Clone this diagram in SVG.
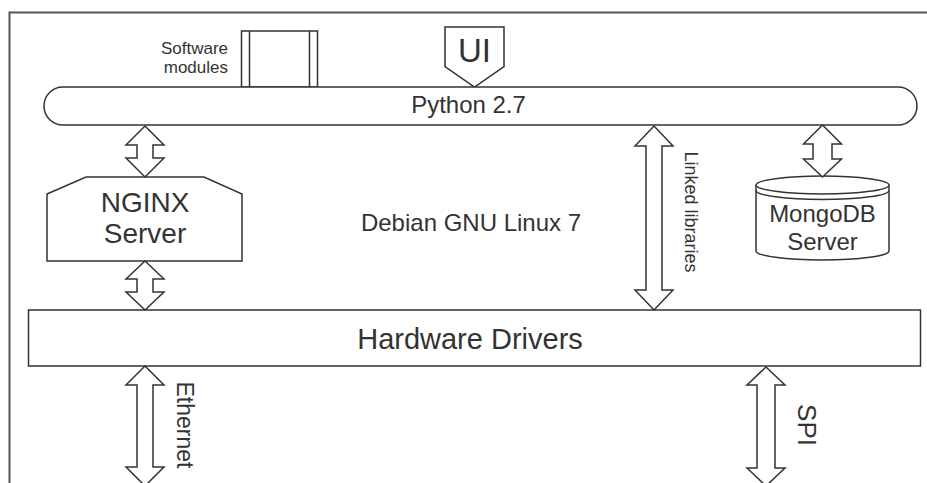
<svg xmlns="http://www.w3.org/2000/svg" width="927" height="483" viewBox="0 0 927 483">
<style>
.s{fill:#fff;stroke:#333;stroke-width:1.5}
.l{fill:none;stroke:#333;stroke-width:1.5}
.t{font-family:"Liberation Sans",Arial,Helvetica,sans-serif;fill:#333;text-anchor:middle}
</style>
<rect width="927" height="483" fill="#fff"/>
<path d="M9.5,483 V12.5 H927" fill="none" stroke="#555" stroke-width="2"/>
<g id="software-modules">
<rect class="s" x="241.5" y="31" width="76" height="56"/>
<path class="l" d="M249.5,31 V87 M309.5,31 V87"/>
<text class="t" x="228" y="54" font-size="17" style="text-anchor:end">Software</text>
<text class="t" x="228" y="73" font-size="17" style="text-anchor:end">modules</text>
</g>
<g id="ui">
<polygon class="s" points="445,27 504,27 504,66.7 474.5,87 445,66.7"/>
<text class="t" x="474.5" y="62" font-size="33">UI</text>
</g>
<g id="python">
<rect class="s" x="44" y="87" width="873" height="38" rx="19" ry="19"/>
<text class="t" x="468.5" y="113" font-size="24">Python 2.7</text>
</g>
<g id="nginx">
<polygon class="s" points="47,194 86,177 204,177 242,194 242,261 47,261"/>
<text class="t" x="145" y="212" font-size="28">NGINX</text>
<text class="t" x="145" y="243" font-size="28">Server</text>
</g>
<g id="debian">
<text class="t" x="471" y="231" font-size="24">Debian GNU Linux 7</text>
</g>
<g id="mongodb">
<path class="s" d="M756,185 V251 A66.5,9 0 0 0 889,251 V185"/>
<path class="s" d="M756,185 A66.5,9 0 0 1 889,185 A66.5,9 0 0 1 756,185 Z"/>
<path class="l" d="M756,190.5 A66.5,9 0 0 0 889,190.5"/>
<text class="t" x="822.5" y="222" font-size="24">MongoDB</text>
<text class="t" x="822.5" y="250" font-size="24">Server</text>
</g>
<g id="hardware-drivers">
<rect class="s" x="28.5" y="310" width="892" height="56"/>
<text class="t" x="470" y="349" font-size="29">Hardware Drivers</text>
</g>
<g id="connectors">
<polygon class="s" points="145,126 164,145 153,145 153,158 164,158 145,177 126,158 137,158 137,145 126,145"/>
<polygon class="s" points="145,261 164,279 153,279 153,292 164,292 145,310 126,292 137,292 137,279 126,279"/>
<polygon class="s" points="654,126 673,146 662,146 662,290 673,290 654,310 635,290 646,290 646,146 635,146"/>
<polygon class="s" points="822.5,125 841.5,144 832,144 832,159 841.5,159 822.5,177 803.5,159 813,159 813,144 803.5,144"/>
<polygon class="s" points="145,366 164,385 153,385 153,467 164,467 145,486 126,467 137,467 137,385 126,385"/>
<polygon class="s" points="766,367 785,385 775,385 775,468 785,468 766,486 747,468 757,468 757,385 747,385"/>
<text class="t" font-size="18" transform="translate(685,212) rotate(90)">Linked libraries</text>
<text class="t" font-size="23" transform="translate(177,425) rotate(90)">Ethernet</text>
<text class="t" font-size="26" transform="translate(798,425) rotate(90)">SPI</text>
</g>
</svg>
